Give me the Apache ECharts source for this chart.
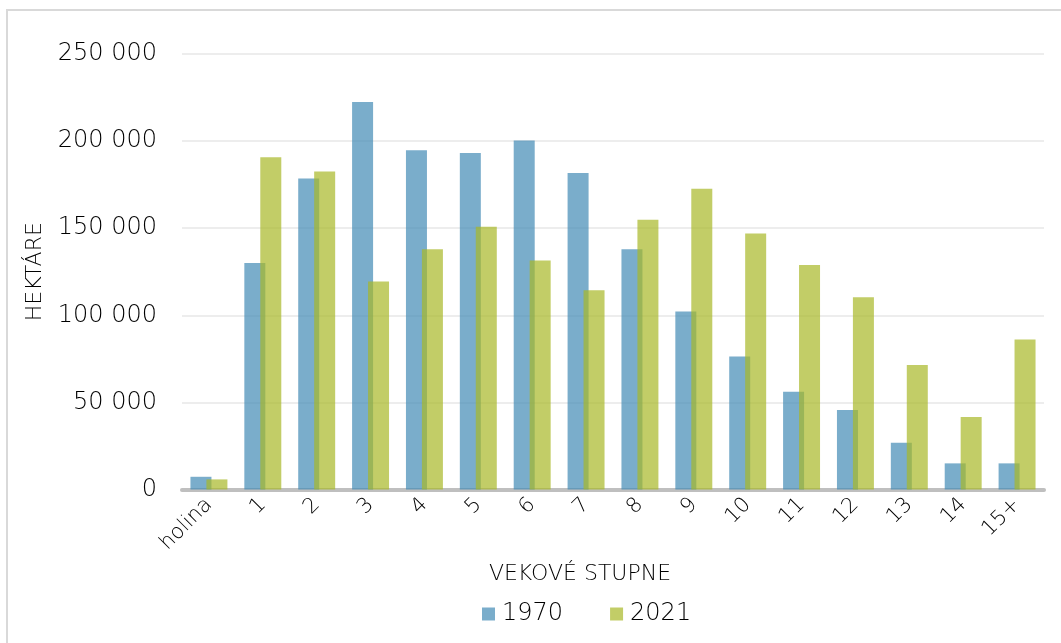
<!DOCTYPE html>
<html>
<head>
<meta charset="utf-8">
<script src="https://cdn.jsdelivr.net/npm/echarts@6/dist/echarts.min.js"></script>
<style>
html,body{margin:0;padding:0;background:#fff;}
#c{width:1061px;height:643px;}
</style>
</head>
<body>
<div id="c"></div>
<script>
const categories = ['holina','1','2','3','4','5','6','7','8','9','10','11','12','13','14','15+'];
const values1970 = [7300,130000,178500,222400,194700,193100,200400,181700,137900,102200,76400,56100,45600,26800,15000,15000];
const values2021 = [5800,190700,182600,119400,137900,150900,131400,114400,154900,172700,146900,128900,110400,71400,41600,86100];
const seriesNames = ['1970','2021'];
const yTicks = {min:0, max:250000, interval:50000};
const xTitle = 'VEKOVÉ STUPNE';
const yTitle = 'HEKTÁRE';

const FONT = 'DejaVu Sans';
const FW = 200;
const TXT = '#000000';
const chart = echarts.init(document.getElementById('c'), null, {renderer:'canvas'});
chart.setOption({
  animation:false,
  backgroundColor:'#fff',
  textStyle:{fontFamily:FONT,fontWeight:FW},
  graphic:[{type:'rect', shape:{x:7,y:10,width:1100,height:700}, style:{fill:'none', stroke:'#d9d9d9', lineWidth:2}, silent:true}],
  grid:{left:182,right:17,top:54,bottom:153.5,containLabel:false},
  legend:{
    data:seriesNames, bottom:12, left:477, itemWidth:13, itemHeight:13, itemGap:47,
    textStyle:{fontFamily:FONT,fontWeight:FW,fontSize:24,color:TXT,padding:[0,0,0,2]},
    icon:'rect'
  },
  xAxis:{
    type:'category', data:categories,
    axisLine:{lineStyle:{color:'#bfbfbf',width:4}},
    axisTick:{show:false},
    axisLabel:{rotate:45,fontFamily:FONT,fontWeight:FW,fontSize:21,color:TXT,margin:12,interval:0},
    name:xTitle, nameLocation:'middle', nameGap:74,
    nameTextStyle:{fontFamily:FONT,fontWeight:FW,fontSize:22,color:TXT,padding:[0,66,0,0]}
  },
  yAxis:{
    type:'value', min:yTicks.min, max:yTicks.max, interval:yTicks.interval,
    axisLine:{show:false}, axisTick:{show:false},
    splitLine:{lineStyle:{color:'#ededed',width:2}},
    axisLabel:{fontFamily:FONT,fontWeight:FW,fontSize:24,color:TXT,margin:25,
      formatter:v=>String(v).replace(/\B(?=(\d{3})+(?!\d))/g,' ')},
    name:yTitle, nameLocation:'middle', nameGap:136,
    nameTextStyle:{fontFamily:FONT,fontWeight:FW,fontSize:22,color:TXT}
  },
  series:[
    {name:seriesNames[0], type:'bar', data:values1970, barWidth:21, barGap:'-24%',
     itemStyle:{color:'rgba(65,138,181,0.7)'}},
    {name:seriesNames[1], type:'bar', data:values2021, barWidth:21,
     itemStyle:{color:'rgba(168,184,39,0.7)'}}
  ]
});
</script>
</body>
</html>
